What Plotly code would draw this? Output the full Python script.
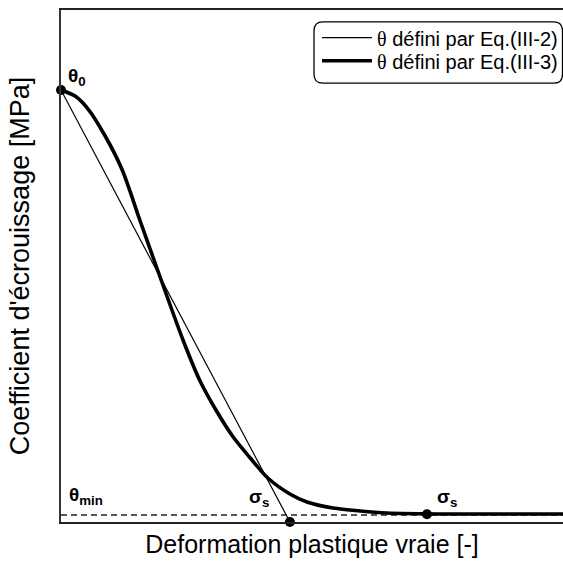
import plotly.graph_objects as go

# Strain (normalised) and hardening coefficient (MPa) for the two theta definitions
strain_eq3 = [0.000, 0.028, 0.054, 0.088, 0.122, 0.157, 0.191, 0.243, 0.277, 0.311,
              0.343, 0.377, 0.412, 0.456, 0.490, 0.542, 0.596, 0.649, 0.775, 1.000]
theta_eq3 = [843.8, 832.0, 806.6, 753.9, 687.5, 589.8, 496.1, 355.5, 275.4, 214.8,
             166.0, 125.0, 85.9, 54.7, 39.1, 27.3, 21.5, 17.6, 15.6, 15.6]

theta_0 = 843.8
theta_min = 13.7
sigma_s_eq2 = 0.456   # intercept of the linear law with the strain axis
sigma_s_eq3 = 0.729   # saturation point of the Eq.(III-3) curve

strain_eq2 = [0.0, sigma_s_eq2]
theta_eq2 = [theta_0, 0.0]

FONT = "Arial, 'Liberation Sans', sans-serif"
THETA = "<span style=\"font-family:'Liberation Serif', 'Times New Roman', serif\">θ</span>"

fig = go.Figure()

# theta_min reference line
fig.add_trace(go.Scatter(
    x=[0, 1], y=[theta_min, theta_min], mode="lines",
    line=dict(color="#222", width=1.4, dash="6px,4px"),
    showlegend=False, hoverinfo="skip"))

fig.add_trace(go.Scatter(
    x=strain_eq2, y=theta_eq2, mode="lines",
    line=dict(color="black", width=1.2),
    name=THETA + " défini par Eq.(III-2)", legend="legend"))

fig.add_trace(go.Scatter(
    x=strain_eq3, y=theta_eq3, mode="lines",
    line=dict(color="black", width=3.6, shape="spline", smoothing=0.8),
    name=THETA + " défini par Eq.(III-3)", legend="legend2"))

# characteristic points
fig.add_trace(go.Scatter(
    x=[0.0, sigma_s_eq2, sigma_s_eq3], y=[theta_0, 0.0, theta_min + 1.5],
    mode="markers", marker=dict(color="black", size=10),
    cliponaxis=False, showlegend=False, hoverinfo="skip"))

labels = [
    (0.010, 870, "<b>θ<sub>0</sub></b>"),
    (0.012, 50, "<b>θ<sub>min</sub></b>"),
    (0.370, 46, "<b>σ<sub>s</sub></b>"),
    (0.745, 46, "<b>σ<sub>s</sub></b>"),
]
for lx, ly, txt in labels:
    fig.add_annotation(x=lx, y=ly, text=txt, showarrow=False,
                       xanchor="left", yanchor="middle",
                       font=dict(family=FONT, size=19, color="black"))

# rounded legend frame
x0, x1, y0, y1 = 0.504, 0.999, 0.857, 0.977
rx, ry = 9 / 502, 9 / 512
path = (f"M{x0+rx},{y1} L{x1-rx},{y1} Q{x1},{y1} {x1},{y1-ry} "
        f"L{x1},{y0+ry} Q{x1},{y0} {x1-rx},{y0} L{x0+rx},{y0} "
        f"Q{x0},{y0} {x0},{y0+ry} L{x0},{y1-ry} Q{x0},{y1} {x0+rx},{y1} Z")
fig.add_shape(type="path", path=path, xref="paper", yref="paper",
              line=dict(color="black", width=1.3), fillcolor="white", layer="below")

legend_style = dict(xanchor="left", yanchor="top", x=0.510,
                    bgcolor="rgba(0,0,0,0)", borderwidth=0, itemwidth=50,
                    font=dict(family=FONT, size=20, color="black"))

fig.update_layout(
    width=563, height=570,
    margin=dict(l=61, r=0, t=10, b=48),
    paper_bgcolor="white", plot_bgcolor="white",
    font=dict(family=FONT, size=18, color="black"),
    showlegend=True,
    legend=dict(y=0.984, **legend_style),
    legend2=dict(y=0.939, **legend_style),
    xaxis=dict(range=[0, 1], showgrid=False, zeroline=False,
               showticklabels=False, ticks="",
               showline=True, linecolor="#222", linewidth=2, mirror=True,
               title=dict(text="Deformation plastique vraie [-]",
                          font=dict(family=FONT, size=25), standoff=12)),
    yaxis=dict(range=[0, 1000], showgrid=False, zeroline=False,
               showticklabels=False, ticks="",
               showline=True, linecolor="#333", linewidth=2,
               title=dict(text="Coefficient d'écrouissage [MPa]",
                          font=dict(family=FONT, size=27), standoff=22)),
)

fig.write_html("out.html")
